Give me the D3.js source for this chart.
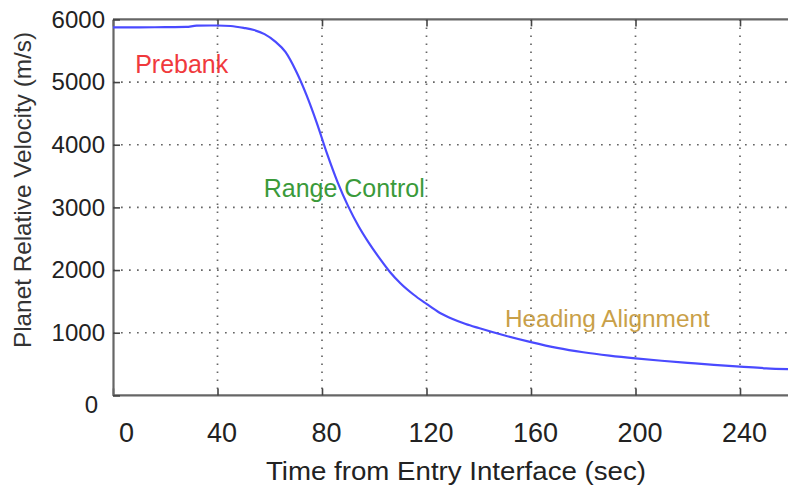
<!DOCTYPE html>
<html>
<head>
<meta charset="utf-8">
<script src="https://cdn.jsdelivr.net/npm/d3@7"></script>
<style>
  body { margin: 0; background: #fff; }
  svg { display: block; font-family: "Liberation Sans", Arial, sans-serif; }
</style>
</head>
<body>
<div id="chart"></div>
<script>
// velocity vs time
var time = [0, 10, 20, 28, 32, 40, 45, 50, 54, 58, 62, 66, 70, 74, 78, 82, 86, 90, 94, 98,
            102, 106, 110, 115, 120, 125, 130, 135, 140, 150, 160, 170, 180, 190, 200,
            210, 220, 230, 240, 250, 260];
var velocity = [5874, 5874, 5876, 5880, 5900, 5903, 5895, 5865, 5830, 5765, 5650, 5480, 5180, 4800, 4350, 3850, 3400, 3020, 2700, 2430,
                2190, 1970, 1790, 1610, 1460, 1320, 1220, 1140, 1075, 955, 850, 758, 688, 634, 590,
                553, 520, 488, 460, 432, 418];

var xTicks = [0, 40, 80, 120, 160, 200, 240];
var yTicks = [0, 1000, 2000, 3000, 4000, 5000, 6000];

var labels = [
  {text: "Prebank", t: 8.5, v: 5140, color: "#f0393c", size: 25, len: 93},
  {text: "Range Control", t: 57.7, v: 3170, color: "#3a9a3a", size: 25, len: 161},
  {text: "Heading Alignment", t: 150, v: 1095, color: "#c9a048", size: 23, len: 205}
];

var width = 788, height = 485;
var plotLeft = 113, plotTop = 19.4, plotBottom = 395.4;

var x = d3.scaleLinear().domain([0, 260]).range([plotLeft, plotLeft + 260 * 2.6125]);
var y = d3.scaleLinear().domain([0, 6000]).range([plotBottom, plotTop]);

var svg = d3.select("#chart").append("svg")
    .attr("width", width)
    .attr("height", height);

// dotted grid
var grid = svg.append("g").attr("stroke", "#666").attr("stroke-width", 1.7)
    .attr("stroke-dasharray", "1.7,6.3");
grid.selectAll(".gx").data(xTicks.slice(1)).join("line")
    .attr("x1", d => x(d)).attr("x2", d => x(d))
    .attr("y1", plotTop).attr("y2", plotBottom);
grid.selectAll(".gy").data(yTicks.slice(1, -1)).join("line")
    .attr("x1", plotLeft).attr("x2", width)
    .attr("y1", d => y(d)).attr("y2", d => y(d));

// axes
var xAxis = svg.append("g")
    .attr("transform", "translate(0," + plotBottom + ")")
    .call(d3.axisBottom(x).tickValues(xTicks).tickSizeInner(-7).tickSizeOuter(0).tickPadding(27));
xAxis.selectAll("text")
    .attr("font-size", 27)
    .attr("fill", "#222")
    .attr("dx", d => d === 0 ? 13 : 4);

var xTop = svg.append("g")
    .attr("transform", "translate(0," + plotTop + ")")
    .call(d3.axisTop(x).tickValues(xTicks).tickSizeInner(-7).tickSizeOuter(0).tickFormat(""));

var yAxis = svg.append("g")
    .attr("transform", "translate(" + plotLeft + ",0)")
    .call(d3.axisLeft(y).tickValues(yTicks).tickFormat(d3.format("d"))
        .tickSizeInner(-7).tickSizeOuter(0).tickPadding(8));
yAxis.selectAll("text")
    .attr("font-size", 24)
    .attr("fill", "#222")
    .attr("dx", d => d === 0 ? -7 : 0)
    .attr("dy", d => d === 0 ? "0.7em" : "0.32em");

svg.selectAll(".domain").attr("stroke", "#666").attr("stroke-width", 2.2);
svg.selectAll(".tick line").attr("stroke", "#444").attr("stroke-width", 1.6);
xAxis.select(".domain").attr("d", "M" + plotLeft + ",0H" + width);
xTop.select(".domain").attr("d", "M" + plotLeft + ",0H" + width);

// curve
var line = d3.line()
    .x((d, i) => x(time[i]))
    .y(d => y(d))
    .curve(d3.curveMonotoneX);

svg.append("path")
    .datum(velocity)
    .attr("fill", "none")
    .attr("stroke", "#4a4aff")
    .attr("stroke-width", 2.2)
    .attr("d", line);

// phase labels
svg.selectAll(".phase").data(labels).join("text")
    .attr("x", d => x(d.t))
    .attr("y", d => y(d.v))
    .attr("fill", d => d.color)
    .attr("font-size", d => d.size)
    .attr("textLength", d => d.len)
    .attr("lengthAdjust", "spacingAndGlyphs")
    .text(d => d.text);

// axis titles
svg.append("text")
    .attr("x", 456)
    .attr("y", 480)
    .attr("text-anchor", "middle")
    .attr("font-size", 25)
    .attr("fill", "#222")
    .attr("textLength", 380)
    .attr("lengthAdjust", "spacingAndGlyphs")
    .text("Time from Entry Interface (sec)");

svg.append("text")
    .attr("transform", "translate(31,190) rotate(-90)")
    .attr("text-anchor", "middle")
    .attr("font-size", 24)
    .attr("fill", "#333")
    .attr("textLength", 316)
    .attr("lengthAdjust", "spacingAndGlyphs")
    .text("Planet Relative Velocity (m/s)");
</script>
</body>
</html>
